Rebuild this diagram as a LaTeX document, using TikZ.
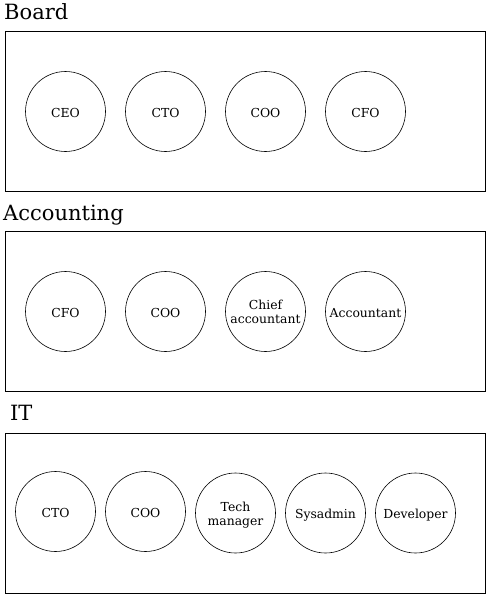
\documentclass[tikz,border=0pt]{standalone}
\usepackage{fontspec}
\setmainfont{DejaVu Serif}
\newcommand{\twoline}[2]{\begin{tabular}[t]{@{}c@{}}#1\\#2\end{tabular}}
\begin{document}
\begin{tikzpicture}[x=1pt,y=-1pt,
  grp/.style={draw=black,line width=0.8pt},
  title/.style={anchor=base west,inner sep=0pt,font=\fontsize{21}{24}\selectfont},
  person/.style={draw=black,circle,minimum size=80pt,inner sep=0pt,
    font=\fontsize{12.4}{14}\selectfont,line width=0.6pt,
    text height=11.5pt,text depth=0pt},
  person2/.style={person,text height=12pt,text depth=16pt}]
\useasboundingbox (0,0) rectangle (486,594);
% Board
\node[title] (tboard) at (4,20) {Board};
\draw[grp] (5.5,31.5) rectangle (485.5,191.5);
\node[person] (b1) at (65.5,111.5) {CEO};
\node[person] (b2) at (165.5,111.5) {CTO};
\node[person] (b3) at (265.5,111.5) {COO};
\node[person] (b4) at (365.5,111.5) {CFO};
% Accounting
\node[title] (tacc) at (3,220) {Accounting};
\draw[grp] (5.5,231.5) rectangle (485.5,391.5);
\node[person] (a1) at (65.5,311.5) {CFO};
\node[person] (a2) at (165.5,311.5) {COO};
\node[person2] (a3) at (265.5,311.5) {\twoline{Chief}{accountant}};
\node[person] (a4) at (365.5,311.5) {Accountant};
% IT
\node[title] (tit) at (10,420) {IT};
\draw[grp] (5.5,433.5) rectangle (485.5,593);
\node[person] (i1) at (55.5,511.5) {CTO};
\node[person] (i2) at (145.5,511.5) {COO};
\node[person2] (i3) at (235.5,513) {\twoline{Tech}{manager}};
\node[person] (i4) at (325.5,513) {Sysadmin};
\node[person] (i5) at (415.5,513) {Developer};
\end{tikzpicture}
\end{document}
